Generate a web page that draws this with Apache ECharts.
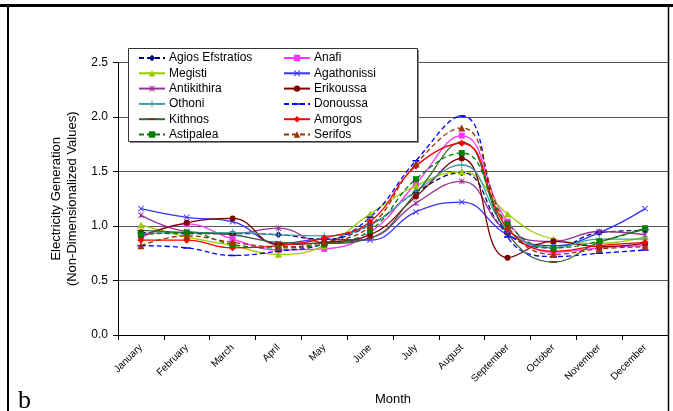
<!DOCTYPE html>
<html>
<head>
<meta charset="utf-8">
<script src="https://cdn.jsdelivr.net/npm/echarts@6/dist/echarts.min.js"></script>
<style>
  html, body { margin: 0; padding: 0; background: #fff; }
  #ec { width: 673px; height: 411px; }
</style>
</head>
<body>
<div id="ec"></div>
<script>
// months on x axis
var months = ["January", "February", "March", "April", "May", "June",
  "July", "August", "September", "October", "November", "December"];
var yTicks = [0, 0.5, 1.0, 1.5, 2.0, 2.5];

// series values
var agiosEfstratios = [0.94, 0.93, 0.93, 0.92, 0.88, 1.01, 1.31, 1.49, 0.93, 0.80, 0.94, 0.96];
var anafi           = [0.89, 1.02, 0.88, 0.78, 0.79, 0.94, 1.39, 1.83, 1.04, 0.76, 0.80, 0.82];
var megisti         = [1.01, 0.90, 0.82, 0.74, 0.82, 1.11, 1.37, 1.50, 1.11, 0.88, 0.84, 0.90];
var agathonissi     = [1.16, 1.08, 1.04, 0.84, 0.88, 0.87, 1.13, 1.22, 0.92, 0.82, 0.94, 1.16];
var antikithira     = [1.10, 0.95, 0.93, 0.98, 0.85, 0.89, 1.21, 1.41, 0.95, 0.86, 0.95, 0.92];
var erikoussa       = [0.91, 1.03, 1.07, 0.83, 0.85, 0.92, 1.27, 1.62, 0.71, 0.86, 0.81, 0.84];
var othoni          = [0.93, 0.94, 0.94, 0.92, 0.91, 1.01, 1.32, 1.56, 0.97, 0.80, 0.88, 0.88];
var donoussa        = [0.82, 0.80, 0.73, 0.77, 0.84, 1.08, 1.60, 2.01, 0.90, 0.72, 0.75, 0.78];
var kithnos         = [0.96, 0.94, 0.92, 0.85, 0.84, 0.89, 1.30, 1.77, 0.93, 0.67, 0.85, 0.97];
var amorgos         = [0.87, 0.87, 0.80, 0.82, 0.89, 1.04, 1.55, 1.76, 0.98, 0.77, 0.82, 0.85];
var astipalea       = [0.92, 0.94, 0.83, 0.80, 0.83, 0.96, 1.43, 1.67, 1.02, 0.80, 0.86, 0.98];
var serifos         = [0.82, 0.91, 0.85, 0.81, 0.85, 1.00, 1.57, 1.90, 1.00, 0.74, 0.79, 0.81];

var FONT = "Arial, 'Liberation Sans', sans-serif";

// marker shapes (tiny corner specks keep the bounding box square)
var box = "M0,0L0.01,0L0,0.01Z M10,10L9.99,10L10,9.99Z ";
var xMark = "path://M0,1L1,0L5,4L9,0L10,1L6,5L10,9L9,10L5,6L1,10L0,9L4,5Z";
var starMark = "path://M0,1L1,0L5,4L9,0L10,1L6,5L10,9L9,10L5,6L1,10L0,9L4,5Z M4.4,0L5.6,0L5.6,10L4.4,10Z";
var plusMark = "path://M4.3,0H5.7V4.3H10V5.7H5.7V10H4.3V5.7H0V4.3H4.3Z";
var dashMark = "path://" + box + "M0,4H10V6.2H0Z";

function mk(name, data, color, symbol, size, dashed, markColor) {
  return {
    name: name,
    type: "line",
    data: data,
    smooth: 0.45,
    symbol: symbol,
    symbolSize: size,
    lineStyle: { color: color, width: 1.3, type: dashed ? [5, 3] : "solid" },
    itemStyle: { color: markColor || color },
    emphasis: { disabled: true },
    z: 3
  };
}

var series = [
  mk("Agios Efstratios", agiosEfstratios, "#000080", "diamond", 7, true),
  mk("Anafi", anafi, "#FF33FF", "rect", 6, false),
  mk("Megisti", megisti, "#99CC00", "triangle", 7, false),
  mk("Agathonissi", agathonissi, "#3333FF", xMark, 6, false),
  mk("Antikithira", antikithira, "#993399", starMark, 6, false),
  mk("Erikoussa", erikoussa, "#800000", "circle", 6, false),
  mk("Othoni", othoni, "#3CA0A0", plusMark, 7, false),
  mk("Donoussa", donoussa, "#0000FF", dashMark, 7, true),
  mk("Kithnos", kithnos, "#336633", dashMark, 7, false, "#663300"),
  mk("Amorgos", amorgos, "#FF0000", "diamond", 7, false),
  mk("Astipalea", astipalea, "#008000", "rect", 6, true),
  mk("Serifos", serifos, "#993300", "triangle", 7, true)
];

var legendStyle = {
  orient: "vertical",
  top: 47,
  z: 20,
  itemWidth: 26,
  itemHeight: 8,
  itemGap: 3.3,
  selectedMode: false,
  textStyle: { fontFamily: FONT, fontSize: 12, lineHeight: 12, color: "#000", padding: [0, 0, 0, -1] }
};

var myChart = echarts.init(document.getElementById("ec"), null, { renderer: "canvas" });

myChart.setOption({
  backgroundColor: "#fff",
  animation: false,
  grid: { left: 118, right: 5, top: 62.6, bottom: 75 },
  legend: [
    Object.assign({ left: 133, data: ["Agios Efstratios", "Megisti", "Antikithira", "Othoni", "Kithnos", "Astipalea"] }, legendStyle),
    Object.assign({ left: 278, data: ["Anafi", "Agathonissi", "Erikoussa", "Donoussa", "Amorgos", "Serifos"] }, legendStyle)
  ],
  xAxis: {
    type: "category",
    data: months,
    boundaryGap: true,
    name: "Month",
    nameLocation: "middle",
    nameGap: 58,
    nameTextStyle: { fontFamily: FONT, fontSize: 13, color: "#000" },
    axisLine: { lineStyle: { color: "#000", width: 1 } },
    axisTick: { show: true, length: 5, lineStyle: { color: "#000" } },
    axisLabel: { rotate: 45, fontFamily: FONT, fontSize: 10, color: "#000", margin: 11 },
    splitLine: { show: false }
  },
  yAxis: {
    type: "value",
    min: yTicks[0],
    max: yTicks[yTicks.length - 1],
    interval: 0.5,
    name: "Electricity Generation\n(Non-Dimensionalized Values)",
    nameLocation: "middle",
    nameRotate: 90,
    nameGap: 36,
    nameTextStyle: { fontFamily: FONT, fontSize: 13, color: "#000", lineHeight: 16 },
    axisLine: { show: true, lineStyle: { color: "#000", width: 1 } },
    axisTick: { show: true, length: 5, lineStyle: { color: "#000" } },
    axisLabel: {
      fontFamily: FONT, fontSize: 12, color: "#000", margin: 10,
      formatter: function (v) { return v.toFixed(1); }
    },
    splitLine: { show: true, lineStyle: { color: "#555", width: 1 } }
  },
  graphic: [
    // legend box with shadow
    { type: "rect", left: 130, top: 50, shape: { width: 289, height: 93 }, style: { fill: "#888" }, z: 4 },
    { type: "rect", left: 128, top: 48, shape: { width: 289, height: 93 }, style: { fill: "#fff", stroke: "#333", lineWidth: 1 }, z: 5 },
    // outer frame
    { type: "line", shape: { x1: 0, y1: 5.5, x2: 673, y2: 5.5 }, style: { stroke: "#000", lineWidth: 3 }, z: 10 },
    { type: "line", shape: { x1: 8, y1: 5, x2: 8, y2: 411 }, style: { stroke: "#000", lineWidth: 2 }, z: 10 },
    { type: "line", shape: { x1: 668.5, y1: 5, x2: 668.5, y2: 411 }, style: { stroke: "#000", lineWidth: 1.5 }, z: 10 },
    { type: "text", left: 18, top: 388, style: { text: "b", font: "26px 'Liberation Serif', serif", fill: "#000" }, z: 10 }
  ],
  series: series
});
</script>
</body>
</html>
